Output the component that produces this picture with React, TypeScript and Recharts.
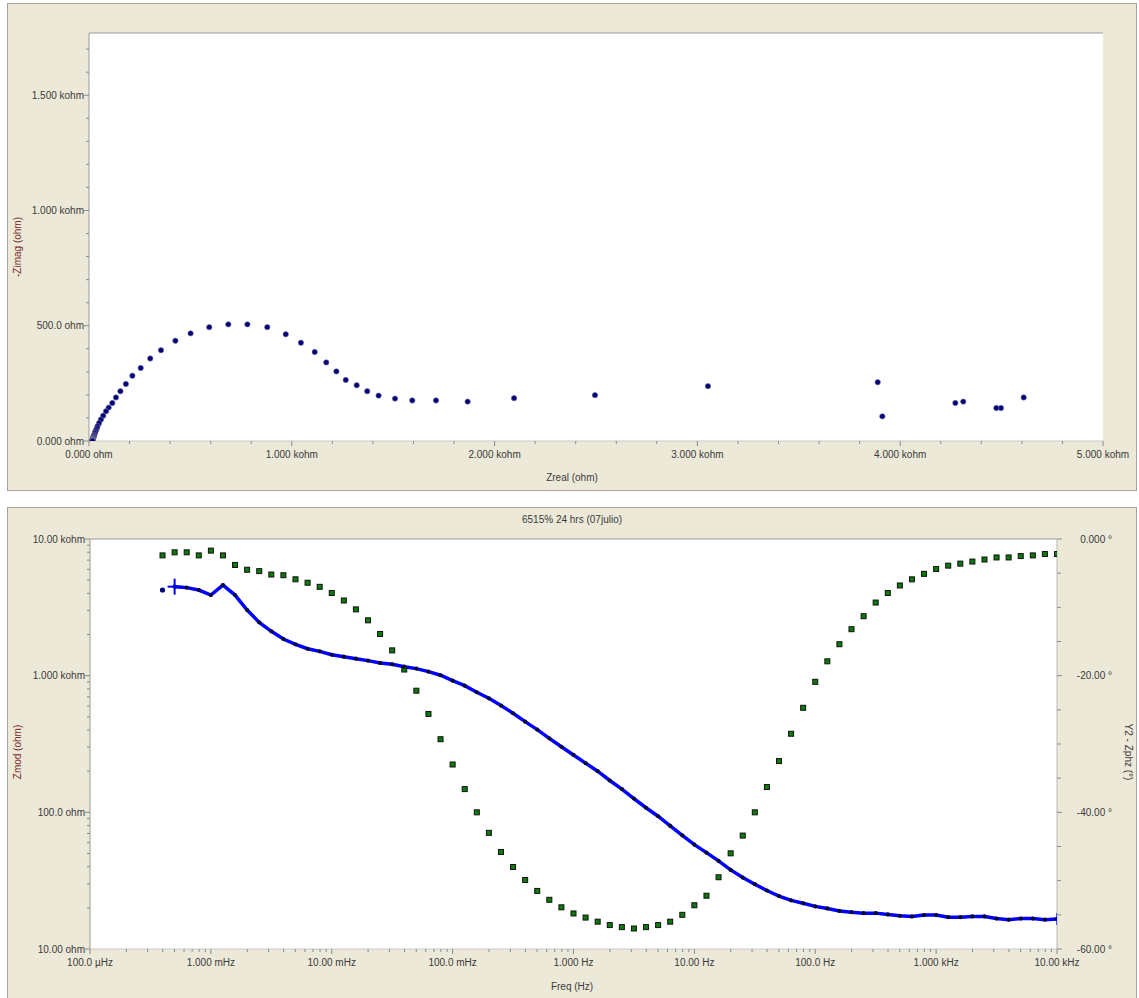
import React from 'react';
import {
  ComposedChart,
  ScatterChart,
  Scatter,
  Line,
  XAxis,
  YAxis,
  CartesianGrid,
  ReferenceLine,
} from 'recharts';

// ---------------- DATA ----------------
// Frequencies (Hz), ascending (10 points / decade)
const freqHz = [
  3.981e-4, 5.012e-4, 6.31e-4, 7.943e-4, 1.0e-3, 1.259e-3, 1.585e-3, 1.995e-3, 2.512e-3, 3.162e-3,
  3.981e-3, 5.012e-3, 6.31e-3, 7.943e-3, 1.0e-2, 1.259e-2, 1.585e-2, 1.995e-2, 2.512e-2, 3.162e-2,
  3.981e-2, 5.012e-2, 6.31e-2, 7.943e-2, 1.0e-1, 1.259e-1, 1.585e-1, 1.995e-1, 2.512e-1, 3.162e-1,
  3.981e-1, 5.012e-1, 6.31e-1, 7.943e-1, 1.0, 1.259, 1.585, 1.995, 2.512, 3.162,
  3.981, 5.012, 6.31, 7.943, 10.0, 12.59, 15.85, 19.95, 25.12, 31.62,
  39.81, 50.12, 63.1, 79.43, 100.0, 125.9, 158.5, 199.5, 251.2, 316.2,
  398.1, 501.2, 631.0, 794.3, 1000, 1259, 1585, 1995, 2512, 3162,
  3981, 5012, 6310, 7943, 10000,
];

// |Z| (ohm)
const zmodOhm = [
  4234, 4480, 4408, 4234, 3890, 4600, 3890, 3020, 2455, 2112,
  1855, 1695, 1574, 1507, 1423, 1376, 1331, 1288, 1239, 1211,
  1164, 1126, 1070, 1007, 919, 845, 756, 683, 604, 531,
  461, 403, 348, 302, 263, 229, 200, 171, 148, 126,
  108, 93.6, 79.5, 67.9, 58.0, 50.7, 44.1, 37.9, 33.3, 29.8,
  26.8, 24.4, 22.7, 21.6, 20.5, 19.8, 19.0, 18.6, 18.3, 18.3,
  17.9, 17.5, 17.3, 17.7, 17.7, 17.1, 17.1, 17.3, 17.3, 16.7,
  16.4, 16.7, 16.7, 16.4, 16.6,
];

// Phase (degrees)
const zphzDeg = [
  -2.4, -1.95, -1.95, -2.4, -1.7, -2.4, -3.8, -4.5, -4.7, -5.2,
  -5.3, -5.9, -6.4, -7.0, -7.9, -9.0, -10.3, -11.9, -13.9, -16.3,
  -19.1, -22.2, -25.6, -29.3, -33.0, -36.6, -40.0, -43.0, -45.8, -48.0,
  -49.9, -51.5, -52.8, -53.9, -54.8, -55.4, -56.0, -56.5, -56.8, -57.0,
  -56.8, -56.5, -56.0, -55.0, -53.6, -52.2, -49.5, -46.0, -43.4, -40.0,
  -36.3, -32.5, -28.5, -24.7, -20.9, -17.9, -15.4, -13.2, -11.3, -9.3,
  -7.9, -6.8, -5.9, -5.1, -4.4, -3.9, -3.6, -3.3, -3.0, -2.7,
  -2.7, -2.5, -2.4, -2.2, -2.2,
];

// Nyquist: Zreal (ohm)
const zrealOhm = [
  4311, 4497, 4474, 4272, 3912, 4609, 3889, 3052, 2495, 2096,
  1867, 1711, 1594, 1509, 1428, 1372, 1320, 1266, 1220, 1170,
  1113, 1045, 970, 879, 781, 687, 593, 501, 426, 355,
  302, 255, 214, 182, 155, 133, 115, 97, 84, 70,
  59, 50, 42, 39.0, 34.4, 31.0, 28.7, 26.3, 24.2, 22.8,
  21.6, 20.6, 20.0, 19.6, 19.1, 18.8, 18.3, 18.1, 17.9, 18.1,
  17.7, 17.4, 17.2, 17.6, 17.6, 17.1, 17.1, 17.3, 17.3, 16.7,
  16.4, 16.7, 16.7, 16.4, 16.6,
];

// Nyquist: -Zimag (ohm)
const negZimagOhm = [
  171, 143, 143, 165, 107, 189, 255, 238, 199, 186,
  171, 176, 176, 184, 197, 216, 242, 265, 302, 341,
  386, 426, 463, 494, 506, 506, 494, 467, 435, 394,
  358, 317, 283, 247, 216, 189, 165, 145, 129, 110,
  93, 78, 64, 55.6, 46.7, 40.1, 33.5, 27.3, 22.9, 19.2,
  15.9, 13.1, 10.8, 9.0, 7.3, 6.1, 5.0, 4.3, 3.6, 2.9,
  2.5, 2.1, 1.8, 1.6, 1.4, 1.2, 1.1, 1.0, 0.9, 0.8,
  0.8, 0.7, 0.7, 0.6, 0.6,
];

// Tick labels
const zrealTickValues = [0, 1000, 2000, 3000, 4000, 5000];
const zrealTickLabels = ['0.000 ohm', '1.000 kohm', '2.000 kohm', '3.000 kohm', '4.000 kohm', '5.000 kohm'];
const zimagTickValues = [0, 500, 1000, 1500];
const zimagTickLabels = ['0.000 ohm', '500.0 ohm', '1.000 kohm', '1.500 kohm'];
const freqTickValues = [1e-4, 1e-3, 1e-2, 1e-1, 1, 10, 100, 1000, 10000];
const freqTickLabels = ['100.0 µHz', '1.000 mHz', '10.00 mHz', '100.0 mHz', '1.000 Hz', '10.00 Hz', '100.0 Hz', '1.000 kHz', '10.00 kHz'];
const zmodTickValues = [10, 100, 1000, 10000];
const zmodTickLabels = ['10.00 ohm', '100.0 ohm', '1.000 kohm', '10.00 kohm'];
const phaseTickValues = [0, -20, -40, -60];
const phaseTickLabels = ['0.000 °', '-20.00 °', '-40.00 °', '-60.00 °'];

const chartTitle = '6515% 24 hrs (07julio)';

// ---------------- derived tables ----------------
const nyqRows = zrealOhm.map((zr, i) => ({ zr, zi: negZimagOhm[i] }));
const bodeRows = freqHz.map((f, i) => ({
  f,
  phase: zphzDeg[i],
  zmodLine: i === 0 ? null : zmodOhm[i],
  zmodFirst: i === 0 ? zmodOhm[i] : null,
}));

const linearTicks = (a: number, b: number, step: number) => {
  const out: number[] = [];
  for (let v = a; v <= b + 1e-9; v += step) out.push(Math.round(v * 1000) / 1000);
  return out;
};
const logTicks = (d0: number, d1: number) => {
  const out: number[] = [];
  for (let d = d0; d < d1; d++) {
    for (let m = 1; m < 10; m++) out.push(m * Math.pow(10, d));
  }
  out.push(Math.pow(10, d1));
  return out;
};

const zrealTicksAll = linearTicks(0, 5000, 200);
const zimagTicksAll = linearTicks(0, 1700, 100);
const freqTicksAll = logTicks(-4, 4);
const zmodTicksAll = logTicks(1, 4);
const phaseTicksAll = linearTicks(-60, 0, 5);

// ---------------- styling ----------------
const FONT = "'Liberation Sans', Arial, Helvetica, sans-serif";
const TXT = '#3a3a3a';
const TICK = '#8a8a8a';
const PANEL = '#ECE9D8';
const BORDER = '#A5A39B';

const findLabel = (v: number, majors: number[], labels: string[], log: boolean) => {
  for (let i = 0; i < majors.length; i++) {
    if (log) {
      if (Math.abs(Math.log10(v) - Math.log10(majors[i])) < 1e-6) return labels[i];
    } else if (Math.abs(v - majors[i]) < 1e-6) return labels[i];
  }
  return null;
};

const bottomTick = (majors: number[], labels: string[], log: boolean) => (p: any) => {
  const lab = findLabel(p.payload.value, majors, labels, log);
  return (
    <g>
      <line x1={p.x} x2={p.x} y1={p.y} y2={p.y + (lab ? 5 : 3)} stroke={TICK} strokeWidth={1} />
      {lab && (
        <text x={p.x} y={p.y + 17} textAnchor="middle" fontFamily={FONT} fontSize={10} fill={TXT}>
          {lab}
        </text>
      )}
    </g>
  );
};

const leftTick = (majors: number[], labels: string[], log: boolean) => (p: any) => {
  const lab = findLabel(p.payload.value, majors, labels, log);
  return (
    <g>
      <line x1={p.x - (lab ? 5 : 3)} x2={p.x} y1={p.y} y2={p.y} stroke={TICK} strokeWidth={1} />
      {lab && (
        <text x={p.x - 5} y={p.y + 3.5} textAnchor="end" fontFamily={FONT} fontSize={10} fill={TXT}>
          {lab}
        </text>
      )}
    </g>
  );
};

const rightTick = (majors: number[], labels: string[]) => (p: any) => {
  const lab = findLabel(p.payload.value, majors, labels, false);
  return (
    <g>
      <line x1={p.x} x2={p.x + (lab ? 5 : 4)} y1={p.y} y2={p.y} stroke={TICK} strokeWidth={1} />
      {lab && (
        <text x={p.x + 55} y={p.y + 3.5} textAnchor="end" fontFamily={FONT} fontSize={10} fill={TXT}>
          {lab}
        </text>
      )}
    </g>
  );
};

const nyqDot = (p: any) => (
  <circle cx={p.cx} cy={p.cy} r={2.7} fill="#00007A" stroke="#7a7a99" strokeWidth={0.6} />
);

const phaseSquare = (p: any) => {
  if (p.cy == null || isNaN(p.cy)) return <g key={`ps-${p.index}`} />;
  return (
    <rect
      key={`ps-${p.index}`}
      x={p.cx - 2.5}
      y={p.cy - 2.5}
      width={5}
      height={5}
      fill="#0B7A0B"
      stroke="#111"
      strokeWidth={1}
    />
  );
};

const lastIndex = freqHz.length - 1;
const zmodDot = (p: any) => {
  if (p.cy == null || isNaN(p.cy)) return <g key={`zd-${p.index}`} />;
  return (
    <g key={`zd-${p.index}`}>
      <circle
        cx={p.cx}
        cy={p.cy}
        r={p.index === 0 ? 2.6 : 2.1}
        fill={p.index === 0 ? '#00007A' : '#0a0a30'}
      />
      {p.index === 1 && (
        <g stroke="#0000FF" strokeWidth={2}>
          <line x1={p.cx - 7} x2={p.cx + 7} y1={p.cy} y2={p.cy} />
          <line x1={p.cx} x2={p.cx} y1={p.cy - 8} y2={p.cy + 8} />
        </g>
      )}
      {p.index === lastIndex && (
        <line x1={p.cx} x2={p.cx} y1={p.cy - 6} y2={p.cy + 6} stroke="#0000FF" strokeWidth={1.2} />
      )}
    </g>
  );
};

const Label = ({ x, y, text, rotate = 0, color = TXT }: any) => (
  <div
    style={{
      position: 'absolute',
      left: x,
      top: y,
      transform: `translate(-50%, -50%) rotate(${rotate}deg)`,
      fontFamily: FONT,
      fontSize: 10,
      color,
      whiteSpace: 'nowrap',
      lineHeight: '12px',
    }}
  >
    {text}
  </div>
);

export default function App() {
  return (
    <div
      style={{
        position: 'absolute',
        left: 0,
        top: 0,
        width: 1139,
        height: 998,
        background: '#FFFFFF',
        overflow: 'hidden',
      }}
    >
      {/* Top panel */}
      <div
        style={{
          position: 'absolute',
          left: 7,
          top: 3,
          width: 1130,
          height: 488,
          boxSizing: 'border-box',
          border: `1px solid ${BORDER}`,
          background: PANEL,
        }}
      />
      <div style={{ position: 'absolute', left: 7, top: 3 }}>
        <ScatterChart width={1130} height={488} margin={{ top: 30, right: 34, left: 0, bottom: 0 }}>
          <CartesianGrid fill="#FFFFFF" horizontal={false} vertical={false} />
          <XAxis
            dataKey="zr"
            type="number"
            domain={[0, 5000]}
            ticks={zrealTicksAll}
            interval={0}
            height={50}
            tickSize={0}
            tickMargin={0}
            tickLine={false}
            axisLine={{ stroke: '#C8C8C8' }}
            tick={bottomTick(zrealTickValues, zrealTickLabels, false)}
            allowDataOverflow
          />
          <YAxis
            dataKey="zi"
            type="number"
            domain={[0, 1770]}
            ticks={zimagTicksAll}
            interval={0}
            width={82}
            tickSize={0}
            tickMargin={0}
            tickLine={false}
            axisLine={{ stroke: '#9A9A9A' }}
            tick={leftTick(zimagTickValues, zimagTickLabels, false)}
            allowDataOverflow
          />
          <ReferenceLine y={1770} stroke="#9A9A9A" />
          <Scatter data={nyqRows} shape={nyqDot} isAnimationActive={false} />
        </ScatterChart>
      </div>
      <Label x={572} y={478} text="Zreal (ohm)" />
      <Label x={18} y={247} text="-Zimag (ohm)" rotate={-90} color="#7A2A2A" />

      {/* Bottom panel */}
      <div
        style={{
          position: 'absolute',
          left: 7,
          top: 507,
          width: 1130,
          height: 500,
          boxSizing: 'border-box',
          border: `1px solid ${BORDER}`,
          background: PANEL,
        }}
      />
      <div style={{ position: 'absolute', left: 7, top: 507 }}>
        <ComposedChart width={1130} height={491} data={bodeRows} margin={{ top: 32, right: 0, left: 0, bottom: 0 }}>
          <CartesianGrid fill="#FFFFFF" horizontal={false} vertical={false} />
          <XAxis
            dataKey="f"
            type="number"
            scale="log"
            domain={[1e-4, 1e4]}
            ticks={freqTicksAll}
            interval={0}
            height={49}
            tickSize={0}
            tickMargin={0}
            tickLine={false}
            axisLine={{ stroke: '#C8C8C8' }}
            tick={bottomTick(freqTickValues, freqTickLabels, true)}
            allowDataOverflow
          />
          <YAxis
            yAxisId="z"
            type="number"
            scale="log"
            domain={[10, 10000]}
            ticks={zmodTicksAll}
            interval={0}
            width={83}
            tickSize={0}
            tickMargin={0}
            tickLine={false}
            axisLine={{ stroke: '#9A9A9A' }}
            tick={leftTick(zmodTickValues, zmodTickLabels, true)}
            allowDataOverflow
          />
          <YAxis
            yAxisId="p"
            orientation="right"
            type="number"
            domain={[-60, 0]}
            ticks={phaseTicksAll}
            interval={0}
            width={80}
            tickSize={0}
            tickMargin={0}
            tickLine={false}
            axisLine={{ stroke: '#B8B8B8' }}
            tick={rightTick(phaseTickValues, phaseTickLabels)}
            allowDataOverflow
          />
          <ReferenceLine yAxisId="z" y={10000} stroke="#9A9A9A" />
          <Line
            yAxisId="p"
            dataKey="phase"
            stroke="none"
            dot={phaseSquare}
            activeDot={false}
            isAnimationActive={false}
          />
          <Line
            yAxisId="z"
            dataKey="zmodLine"
            stroke="#0000FF"
            strokeWidth={3.5}
            dot={zmodDot}
            activeDot={false}
            isAnimationActive={false}
          />
          <Line
            yAxisId="z"
            dataKey="zmodFirst"
            stroke="none"
            dot={zmodDot}
            activeDot={false}
            isAnimationActive={false}
          />
        </ComposedChart>
      </div>
      <Label x={572} y={520} text={chartTitle} />
      <Label x={572} y={987} text="Freq (Hz)" />
      <Label x={18} y={752} text="Zmod (ohm)" rotate={-90} color="#7A2A2A" />
      <Label x={1128} y={752} text="Y2 - Zphz (°)" rotate={90} />
    </div>
  );
}
